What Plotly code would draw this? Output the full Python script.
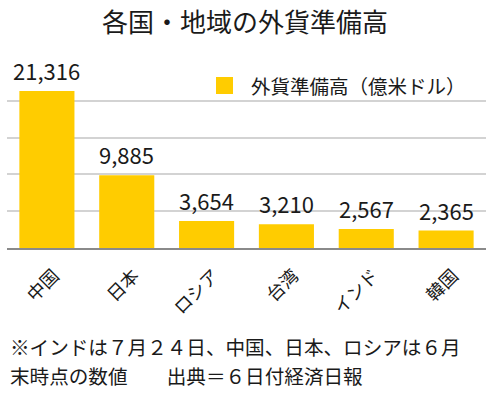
import plotly.graph_objects as go

categories = ["中国", "日本", "ロシア", "台湾", "インド", "韓国"]
reserves = [21316, 9885, 3654, 3210, 2567, 2365]
series_name = "外貨準備高（億米ドル）"
title_text = "各国・地域の外貨準備高"
note_lines = ["※インドは７月２４日、中国、日本、ロシアは６月", "末時点の数値　　出典＝６日付経済日報"]

FONT = "Noto Sans CJK JP, Noto Sans, sans-serif"
BAR_COLOR = "#FFCC00"
TXT = "#1a1a1a"

W, H = 504, 395
ml, mr, mt, mb = 7, 18, 64, 147
pw, ph = W - ml - mr, H - mt - mb

def px_to_paper_x(px):
    return (px - ml) / pw

def px_to_paper_y(py):
    return (H - mb - py) / ph

fig = go.Figure()
fig.add_trace(go.Bar(
    x=categories, y=reserves, name=series_name,
    marker=dict(color=BAR_COLOR, line=dict(width=0)),
    showlegend=False, hoverinfo="x+y",
))

annotations = []
for c, v in zip(categories, reserves):
    annotations.append(dict(
        x=c, y=v, xref="x", yref="y", text=f"{v:,}", showarrow=False,
        yanchor="bottom", yshift=3,
        font=dict(family=FONT, size=22, color=TXT),
    ))

# legend (drawn manually to match the large square swatch)
annotations.append(dict(
    x=px_to_paper_x(249), y=px_to_paper_y(85), xref="paper", yref="paper",
    text=series_name, showarrow=False, xanchor="left", yanchor="middle",
    font=dict(family=FONT, size=19.5, color=TXT),
))
# footnote, two lines
for line, ypx in zip(note_lines, [346, 375]):
    annotations.append(dict(
        x=px_to_paper_x(9), y=px_to_paper_y(ypx), xref="paper", yref="paper",
        text=line, showarrow=False, xanchor="left", yanchor="middle", align="left",
        borderpad=0, font=dict(family=FONT, size=19.6, color=TXT),
    ))

shapes = [dict(
    type="rect", xref="paper", yref="paper",
    x0=px_to_paper_x(216), x1=px_to_paper_x(233),
    y0=px_to_paper_y(94), y1=px_to_paper_y(77),
    fillcolor=BAR_COLOR, line=dict(width=0),
)]

fig.update_layout(
    width=W, height=H,
    margin=dict(l=ml, r=mr, t=mt, b=mb),
    paper_bgcolor="white", plot_bgcolor="white",
    bargap=0.31,
    title=dict(text=title_text, x=245 / W, xanchor="center", y=1 - 23 / H, yanchor="middle",
               font=dict(family=FONT, size=26, color=TXT)),
    annotations=annotations,
    shapes=shapes,
    font=dict(family=FONT, color=TXT),
)
fig.update_xaxes(
    tickangle=-45, ticks="", showgrid=False, automargin=False,
    ticklabelshift=7, ticklabelstandoff=8,
    showline=True, linecolor="#8a8a8a", linewidth=2,
    tickfont=dict(family=FONT, size=18, color=TXT),
)
fig.update_yaxes(
    range=[0, 25000], dtick=5000, showticklabels=False, ticks="", automargin=False,
    showgrid=True, gridcolor="#d3d3d3", gridwidth=1.5, zeroline=False,
)

fig.write_html(
    "out.html",
    config={"displayModeBar": False},
    post_script="document.body.style.margin='0';document.body.style.overflow='hidden';",
)
